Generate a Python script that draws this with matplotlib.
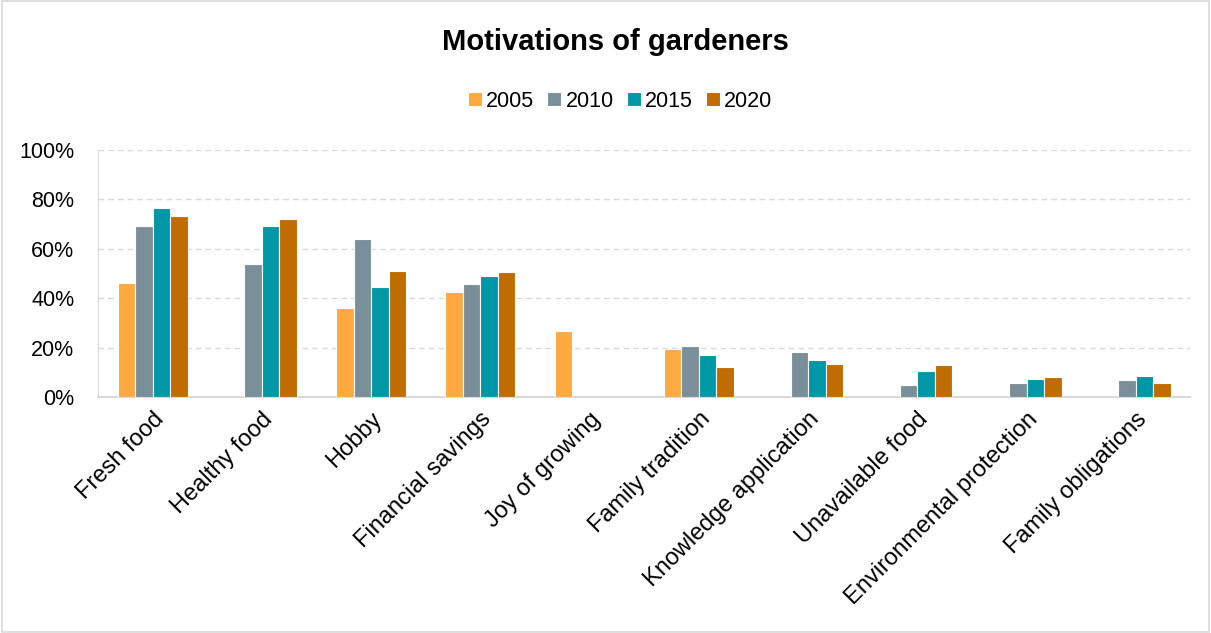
"""Motivations of gardeners grouped bar chart."""

import matplotlib

matplotlib.use("Agg")
import matplotlib.pyplot as plt
import numpy as np
from matplotlib.patches import Rectangle
from matplotlib.ticker import PercentFormatter

plt.rcParams["font.family"] = ["Liberation Sans", "DejaVu Sans"]

categories = [
    "Fresh food",
    "Healthy food",
    "Hobby",
    "Financial savings",
    "Joy of growing",
    "Family tradition",
    "Knowledge application",
    "Unavailable food",
    "Environmental protection",
    "Family obligations",
]
years = ["2005", "2010", "2015", "2020"]
values_2005 = [46.2, np.nan, 36.1, 42.3, 26.8, 19.3, np.nan, np.nan, np.nan, np.nan]
values_2010 = [69.2, 53.8, 63.9, 45.9, np.nan, 20.7, 18.0, 5.0, 5.6, 6.7]
values_2015 = [76.4, 69.1, 44.5, 48.9, np.nan, 16.9, 15.1, 10.6, 7.3, 8.4]
values_2020 = [73.4, 72.2, 50.8, 50.4, np.nan, 12.2, 13.5, 12.9, 8.2, 5.6]
series = [values_2005, values_2010, values_2015, values_2020]
colors = ["#FFA940", "#7A8F99", "#0098A6", "#C16C00"]

fig = plt.figure(figsize=(12.11, 6.33), dpi=100)
fig.patches.append(
    Rectangle((0.002, 0.002), 0.996, 0.996, transform=fig.transFigure,
              fill=False, edgecolor="#D9D9D9", linewidth=1.2)
)
ax = fig.add_axes([0.081, 0.373, 0.902, 0.390])

x = np.arange(len(categories))
bar_width = 0.16
for index, (year, values, color) in enumerate(zip(years, series, colors)):
    offset = (index - 1.5) * bar_width
    ax.bar(x + offset, values, bar_width, color=color, edgecolor="white",
           linewidth=0.8, label=year, zorder=3)

ax.set_xlim(-0.5, len(categories) - 0.5)
ax.set_ylim(0, 100)
ax.set_yticks(np.arange(0, 101, 20))
ax.yaxis.set_major_formatter(PercentFormatter(decimals=0))
ax.grid(axis="y", color="#D9D9D9", linestyle=(0, (4, 3)), linewidth=1, zorder=0)
ax.set_xticks(x, labels=categories, rotation=45, ha="right", rotation_mode="anchor")
ax.tick_params(axis="y", length=0, labelsize=15.5, colors="#000000", pad=17)
ax.tick_params(axis="x", length=0, labelsize=17, colors="#000000", pad=8)
for side in ["top", "right"]:
    ax.spines[side].set_visible(False)
ax.spines["left"].set_color("#D9D9D9")
ax.spines["bottom"].set_color("#D9D9D9")
ax.spines["bottom"].set_linewidth(1.5)

fig.suptitle("Motivations of gardeners", x=0.508, y=0.955, fontsize=21,
             fontweight="bold")
fig.legend(loc="center", bbox_to_anchor=(0.512, 0.84), ncol=4, frameon=False,
           fontsize=15.5, handlelength=0.65, handleheight=0.65, handletextpad=0.2,
           columnspacing=0.6)

fig.savefig("out.png", dpi=100)
